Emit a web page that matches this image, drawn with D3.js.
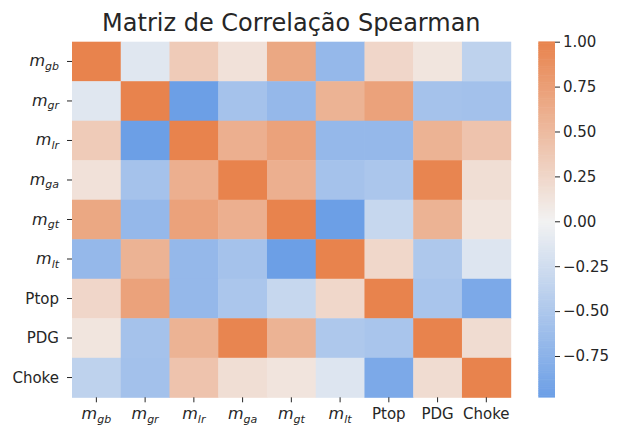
<!DOCTYPE html>
<html>
<head>
<meta charset="utf-8">
<script src="https://cdn.jsdelivr.net/npm/d3@7"></script>
<style>
  body { margin: 0; background: #fff; }
  text { font-family: "DejaVu Sans", sans-serif; fill: #262626; }
</style>
</head>
<body>
<div id="chart"></div>
<script>
// variable names: [base, subscript] (subscript null => plain text)
var labels = [["m","gb"],["m","gr"],["m","lr"],["m","ga"],["m","gt"],["m","lt"],["Ptop",null],["PDG",null],["Choke",null]];

// Spearman correlation matrix, rows in label order
var r_mgb   = [ 1.00, -0.13,  0.35,  0.15,  0.67, -0.68,  0.25,  0.12, -0.38];
var r_mgr   = [-0.13,  1.00, -0.98, -0.56, -0.68,  0.57,  0.72, -0.56, -0.58];
var r_mlr   = [ 0.35, -0.98,  1.00,  0.60,  0.72, -0.68, -0.68,  0.57,  0.42];
var r_mga   = [ 0.15, -0.56,  0.60,  1.00,  0.60, -0.56, -0.52,  0.98,  0.18];
var r_mgt   = [ 0.67, -0.68,  0.72,  0.60,  1.00, -0.98, -0.32,  0.57,  0.13];
var r_mlt   = [-0.68,  0.57, -0.68, -0.56, -0.98,  1.00,  0.24, -0.50, -0.15];
var r_ptop  = [ 0.25,  0.72, -0.68, -0.52, -0.32,  0.24,  1.00, -0.53, -0.86];
var r_pdg   = [ 0.12, -0.56,  0.57,  0.98,  0.57, -0.50, -0.53,  1.00,  0.20];
var r_choke = [-0.38, -0.58,  0.42,  0.18,  0.13, -0.15, -0.86,  0.20,  1.00];
var matrix = [r_mgb, r_mgr, r_mlr, r_mga, r_mgt, r_mlt, r_ptop, r_pdg, r_choke];

var cbTicks = [1.00, 0.75, 0.50, 0.25, 0.00, -0.25, -0.50, -0.75];

var width = 618, height = 426;
var hm = {left: 72, top: 41.7, right: 510.7, bottom: 397.3};
var cb = {left: 538.3, right: 555, top: 41.7, bottom: 397.3};

var vmin = d3.min(matrix, function(r) { return d3.min(r); }), vmax = 1;

// diverging palette (blue -> light grey -> orange), linear in rgb
var color = d3.scaleLinear()
    .domain([-1, 0, 1])
    .range(["#699de6", "#f2f2f2", "#e8834d"])
    .interpolate(d3.interpolateRgb);

var svg = d3.select("#chart").append("svg")
    .attr("width", width)
    .attr("height", height);

var idx = d3.range(labels.length);
var x = d3.scaleBand().domain(idx).range([hm.left, hm.right]);
var y = d3.scaleBand().domain(idx).range([hm.top, hm.bottom]);

// cells
matrix.forEach(function(row, i) {
    svg.selectAll(".c" + i)
        .data(row)
        .enter().append("rect")
        .attr("x", function(d, j) { return x(j); })
        .attr("y", y(i))
        .attr("width", x.bandwidth() + 0.5)
        .attr("height", y.bandwidth() + 0.5)
        .attr("fill", function(d) { return color(d); });
});

function writeLabel(sel, lab) {
    if (lab[1] === null) {
        sel.text(lab[0]);
        return;
    }
    sel.append("tspan").attr("font-style", "italic").attr("font-size", 16).text(lab[0]);
    sel.append("tspan").attr("font-style", "italic").attr("font-size", 11)
        .attr("dy", 3.5).text(lab[1]);
}

// y axis
var gy = svg.append("g");
idx.forEach(function(i) {
    var cy = y(i) + y.bandwidth() / 2;
    gy.append("line").attr("x1", hm.left - 5).attr("x2", hm.left)
        .attr("y1", cy).attr("y2", cy).attr("stroke", "#262626").attr("stroke-width", 1);
    var t = gy.append("text")
        .attr("x", hm.left - 13)
        .attr("y", cy + 5)
        .attr("text-anchor", "end")
        .attr("font-size", 15);
    writeLabel(t, labels[i]);
});

// x axis
var gx = svg.append("g");
idx.forEach(function(i) {
    var cx = x(i) + x.bandwidth() / 2;
    gx.append("line").attr("x1", cx).attr("x2", cx)
        .attr("y1", hm.bottom).attr("y2", hm.bottom + 5)
        .attr("stroke", "#262626").attr("stroke-width", 1);
    var t = gx.append("text")
        .attr("x", cx)
        .attr("y", hm.bottom + 22)
        .attr("text-anchor", "middle")
        .attr("font-size", 15);
    writeLabel(t, labels[i]);
});

// title
svg.append("text")
    .attr("x", (hm.left + hm.right) / 2)
    .attr("y", 31)
    .attr("text-anchor", "middle")
    .attr("font-size", 24)
    .text("Matriz de Correlação Spearman");

// colorbar
var cbScale = d3.scaleLinear().domain([vmin, vmax]).range([cb.bottom, cb.top]);
var steps = d3.range(0, 200).map(function(k) { return vmin + (vmax - vmin) * k / 200; });
var stepH = (cb.bottom - cb.top) / 200;
svg.selectAll(".cbstep")
    .data(steps)
    .enter().append("rect")
    .attr("x", cb.left)
    .attr("width", cb.right - cb.left)
    .attr("y", function(d) { return cbScale(d) - stepH - 0.3; })
    .attr("height", stepH + 0.6)
    .attr("fill", function(d) { return color(d + (vmax - vmin) / 400); });

svg.append("g")
    .attr("transform", "translate(" + cb.right + ",0)")
    .call(d3.axisRight(cbScale).tickValues(cbTicks).tickSize(5).tickPadding(3)
        .tickFormat(function(d) { return d3.format(".2f")(d).replace("-", "\u2212"); }))
    .call(function(g) {
        g.select(".domain").remove();
        g.selectAll("line").attr("stroke", "#262626");
        g.selectAll("text").attr("font-size", 15).attr("fill", "#262626")
            .style("font-family", "'DejaVu Sans', sans-serif");
    });
</script>
</body>
</html>
